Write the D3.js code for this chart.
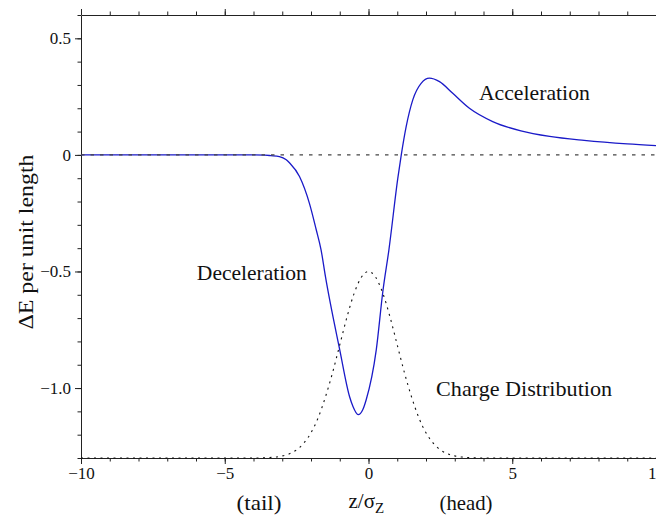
<!DOCTYPE html>
<html>
<head>
<meta charset="utf-8">
<script src="https://cdn.jsdelivr.net/npm/d3@7"></script>
<style>
  body { margin: 0; background: #fff; }
  svg { display: block; font-family: "Liberation Serif", "DejaVu Serif", serif; }
</style>
</head>
<body>
<div id="chart"></div>
<script>
// wake potential (blue)
const wakeZ = [-10, -5, -4, -3.6, -3.4, -3.1, -2.86, -2.75, -2.4, -2.05, -1.82, -1.65, -1.5, -1.0,
  -0.66, -0.54, -0.36, -0.2, -0.08, 0.27, 0.5, 0.71, 1.02, 1.14, 1.31, 1.54, 1.83, 2.12, 2.47,
  2.93, 3.51, 4.32, 5.3, 6.3, 7.5, 9.0, 10];
const wakeV = [0, 0, 0, -0.001, -0.003, -0.007, -0.021, -0.034, -0.093, -0.21, -0.32, -0.407, -0.52, -0.836,
  -1.036, -1.079, -1.114, -1.093, -1.05, -0.836, -0.585, -0.407, -0.1, 0, 0.121, 0.236, 0.307, 0.329, 0.314,
  0.264, 0.2, 0.143, 0.103, 0.079, 0.062, 0.047, 0.040];

// charge distribution (dotted)
const chargeZ = [-10, -4, -3.5, -3.25, -3, -2.75, -2.5, -2.25, -2, -1.75, -1.5, -1.25, -1, -0.75, -0.5, -0.25, 0,
  0.25, 0.5, 0.75, 1, 1.25, 1.5, 1.75, 2, 2.25, 2.5, 2.75, 3, 3.25, 3.5, 4, 10];
const chargeV = [-1.3, -1.3, -1.298, -1.296, -1.291, -1.282, -1.265, -1.236, -1.192, -1.127, -1.039, -0.934, -0.815, -0.696, -0.594, -0.525, -0.5,
  -0.525, -0.594, -0.696, -0.815, -0.934, -1.039, -1.127, -1.192, -1.236, -1.265, -1.282, -1.291, -1.296, -1.298, -1.3, -1.3];

const xMajor = [-10, -5, 0, 5, 10];
const xMinor = d3.range(-10, 11, 1);
const yMajor = [-1.0, -0.5, 0, 0.5];
const yMinor = d3.range(-13, 7).map(i => i / 10);

const labels = [
  { text: "Acceleration", z: 3.84, v: 0.236, len: 111 },
  { text: "Deceleration", z: -5.97, v: -0.536, len: 110 },
  { text: "Charge Distribution", z: 2.35, v: -1.033, len: 176 },
];

const width = 656, height = 516;
const margin = { top: 15, right: 0, bottom: 58, left: 81 };

const svg = d3.select("#chart").append("svg")
  .attr("width", width)
  .attr("height", height);

const x = d3.scaleLinear().domain([-10, 10]).range([margin.left, width - margin.right]);
const y = d3.scaleLinear().domain([-1.3, 0.6]).range([height - margin.bottom, margin.top]);

const axisColor = "#222";

// minor ticks first, then major axes with labels
svg.append("g")
  .attr("transform", `translate(0,${y(-1.3)})`)
  .call(d3.axisBottom(x).tickValues(xMinor).tickSize(3.5).tickFormat("").tickSizeOuter(0))
  .call(g => g.select(".domain").remove());
svg.append("g")
  .attr("transform", `translate(0,${y(0.6)})`)
  .call(d3.axisTop(x).tickValues(xMinor).tickSize(3.5).tickFormat("").tickSizeOuter(0))
  .call(g => g.select(".domain").remove());
svg.append("g")
  .attr("transform", `translate(${x(-10)},0)`)
  .call(d3.axisLeft(y).tickValues(yMinor).tickSize(3.5).tickFormat("").tickSizeOuter(0))
  .call(g => g.select(".domain").remove());

const fmtY = d => d === 0 ? "0" : d3.format(".1f")(d);

svg.append("g")
  .attr("transform", `translate(0,${y(-1.3)})`)
  .call(d3.axisBottom(x).tickValues(xMajor).tickSize(6).tickPadding(3).tickSizeOuter(0).tickFormat(d3.format("d")));
svg.append("g")
  .attr("transform", `translate(0,${y(0.6)})`)
  .call(d3.axisTop(x).tickValues(xMajor).tickSize(6).tickSizeOuter(0).tickFormat(""));
svg.append("g")
  .attr("transform", `translate(${x(-10)},0)`)
  .call(d3.axisLeft(y).tickValues(yMajor).tickSize(6).tickPadding(4).tickSizeOuter(0).tickFormat(fmtY));

svg.selectAll(".tick line, .domain").attr("stroke", axisColor);
svg.selectAll(".tick text")
  .attr("font-size", 17)
  .attr("font-family", "Liberation Serif, serif")
  .attr("fill", "#111");

// blue wake curve
const wake = wakeZ.map((z, i) => [z, wakeV[i]]);
svg.append("path")
  .datum(wake)
  .attr("fill", "none")
  .attr("stroke", "#1a1ac8")
  .attr("stroke-width", 1.3)
  .attr("d", d3.line().x(d => x(d[0])).y(d => y(d[1])).curve(d3.curveMonotoneX));

// zero reference line
svg.append("line")
  .attr("x1", x(-10)).attr("x2", x(10))
  .attr("y1", y(0)).attr("y2", y(0))
  .attr("stroke", "#444")
  .attr("stroke-width", 1.2)
  .attr("stroke-dasharray", "3.5,6");

// charge distribution
const charge = chargeZ.map((z, i) => [z, chargeV[i]]);
svg.append("path")
  .datum(charge)
  .attr("fill", "none")
  .attr("stroke", "#111")
  .attr("stroke-width", 1.1)
  .attr("stroke-dasharray", "2,4.5")
  .attr("d", d3.line().x(d => x(d[0])).y(d => y(d[1])).curve(d3.curveMonotoneX));

// annotations
svg.append("g")
  .selectAll("text")
  .data(labels)
  .join("text")
  .attr("x", d => x(d.z))
  .attr("y", d => y(d.v))
  .attr("font-size", 21)
  .attr("textLength", d => d.len)
  .attr("lengthAdjust", "spacingAndGlyphs")
  .attr("fill", "#111")
  .text(d => d.text);

// y axis title
svg.append("text")
  .attr("transform", "translate(33,242) rotate(-90)")
  .attr("text-anchor", "middle")
  .attr("font-size", 21)
  .attr("textLength", 175)
  .attr("lengthAdjust", "spacingAndGlyphs")
  .attr("fill", "#111")
  .text("ΔE per unit length");

// x axis title
const xt = svg.append("g").attr("fill", "#111").attr("font-size", 21);
xt.append("text")
  .attr("x", 259).attr("y", 510)
  .attr("text-anchor", "middle")
  .attr("textLength", 45).attr("lengthAdjust", "spacingAndGlyphs")
  .text("(tail)");
xt.append("text")
  .attr("x", 466).attr("y", 510)
  .attr("text-anchor", "middle")
  .attr("textLength", 53).attr("lengthAdjust", "spacingAndGlyphs")
  .text("(head)");
const zl = xt.append("text")
  .attr("x", x(0) - 20).attr("y", 508);
zl.append("tspan").text("z/σ");
zl.append("tspan").attr("dy", 5).attr("font-size", 15).text("Z");
</script>
</body>
</html>
